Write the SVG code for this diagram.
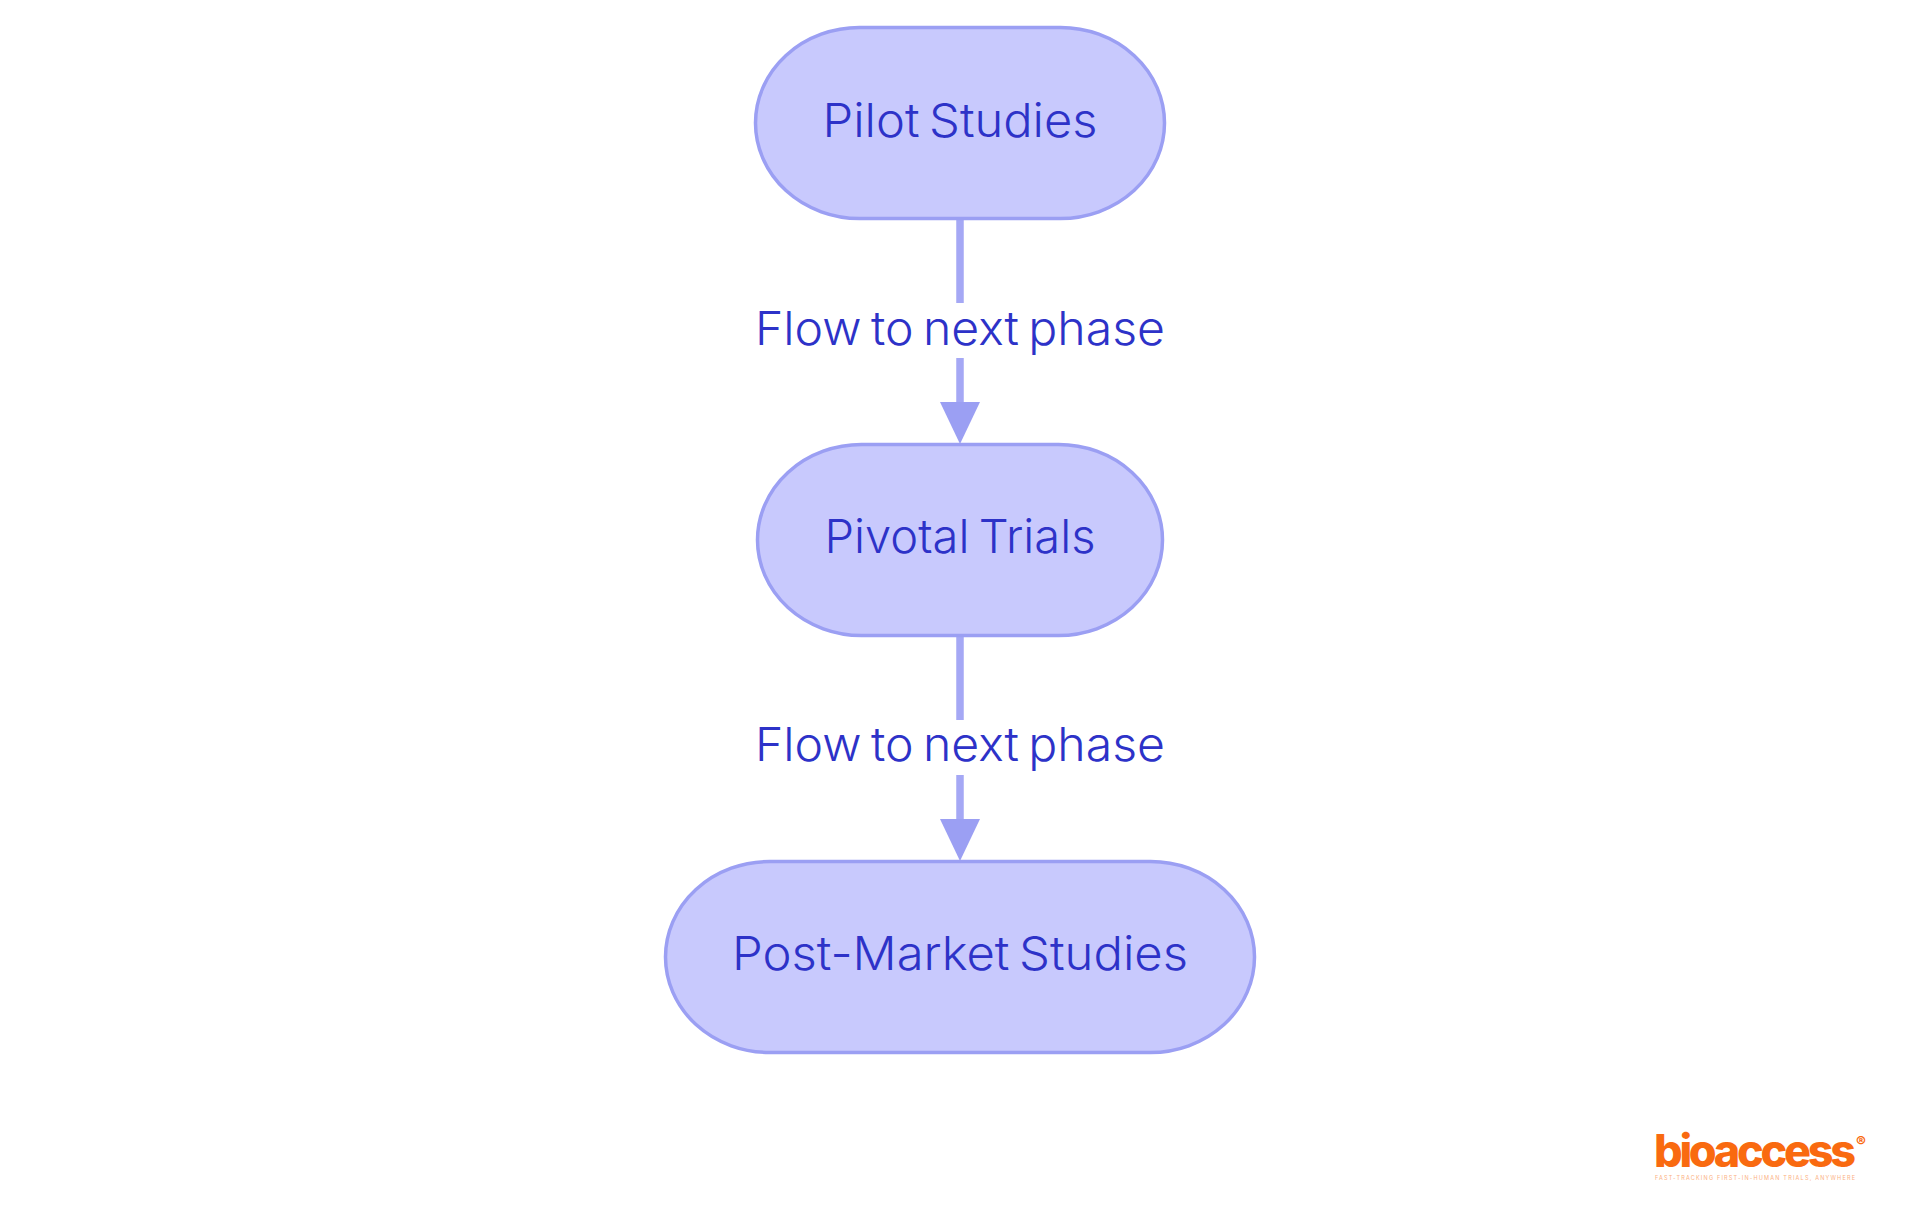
<svg xmlns="http://www.w3.org/2000/svg" width="1920" height="1215" viewBox="0 0 1920 1215">
<style>
.n{fill:#c8c9fd;stroke:#9b9ff3;stroke-width:3.500}
.t{font-family:"Inter","Noto Sans",sans-serif;font-weight:300;font-size:47px;fill:#2d32c8;text-anchor:middle;word-spacing:-4px}
.c{stroke:#a5a8f5;stroke-width:7.500;fill:none}
.l{font-family:"Inter","Noto Sans",sans-serif;font-weight:800;fill:#f96a10}
</style>
<rect width="1920" height="1215" fill="#fff"/>
<g id="connectors">
<path class="c" d="M960 219V303M960 358V404"/>
<path d="M940 402H980L960 444Z" fill="#9b9ff3"/>
<path class="c" d="M960 635V720M960 775V821"/>
<path d="M940 819H980L960 861Z" fill="#9b9ff3"/>
</g>
<g id="node-pilot"><rect class="n" x="755.500" y="27.500" width="409" height="191" rx="104" ry="95.500"/><text class="t" x="960" y="137" textLength="275" lengthAdjust="spacingAndGlyphs">Pilot Studies</text></g>
<g id="node-pivotal"><rect class="n" x="757.500" y="444.500" width="405" height="191" rx="104" ry="95.500"/><text class="t" x="960" y="553" textLength="271" lengthAdjust="spacingAndGlyphs">Pivotal Trials</text></g>
<g id="node-post"><rect class="n" x="665.500" y="861.500" width="589" height="191" rx="104" ry="95.500"/><text class="t" x="960" y="970" textLength="456" lengthAdjust="spacingAndGlyphs">Post-Market Studies</text></g>
<g id="label-1"><text class="t" x="960" y="345" textLength="410" lengthAdjust="spacingAndGlyphs">Flow to next phase</text></g>
<g id="label-2"><text class="t" x="960" y="761" textLength="410" lengthAdjust="spacingAndGlyphs">Flow to next phase</text></g>
<g id="logo">
<text class="l" x="1654" y="1167" font-size="45" textLength="202" lengthAdjust="spacing">bioaccess</text>
<text class="l" x="1856" y="1147" font-size="15" font-weight="600">®</text>
<text x="1655" y="1180" font-family="Inter,sans-serif" font-size="5.500" fill="#fbb07f" textLength="200" lengthAdjust="spacing">FAST-TRACKING FIRST-IN-HUMAN TRIALS, ANYWHERE</text>
</g>
</svg>
